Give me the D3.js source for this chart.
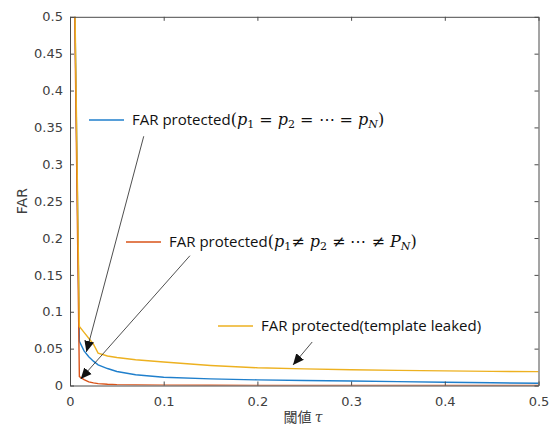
<!DOCTYPE html>
<html>
<head>
<meta charset="utf-8">
<script src="https://cdn.jsdelivr.net/npm/d3@7.9.0/dist/d3.min.js"></script>
<style>
  body { margin: 0; background: #fff; }
  svg { display: block; }
  .tick text { font-family: "DejaVu Sans", sans-serif; font-size: 13px; fill: #404040; }
  .lbl { font-family: "Open Sans", "Noto Sans", sans-serif; font-size: 15px; fill: #111; }
  .m { font-family: "DejaVu Serif", serif; font-style: italic; }
</style>
</head>
<body>
<svg width="557" height="425"></svg>
<script>
// threshold tau and FAR of each curve
const tau = [0, 0.01, 0.015, 0.02, 0.025, 0.03, 0.04, 0.05, 0.07, 0.1, 0.15, 0.2, 0.25, 0.3, 0.35, 0.4, 0.45, 0.5];
const farEqual = [1, 0.060, 0.047, 0.039, 0.033, 0.028, 0.023, 0.019, 0.0145, 0.0112, 0.009, 0.0076, 0.0068, 0.0061, 0.0052, 0.0044, 0.0037, 0.003];
const farUnequal = [1, 0.012, 0.008, 0.005, 0.0035, 0.0025, 0.0017, 0.0012, 0.0008, 0.0005, 0.0003, 0.0002, 0.0001, 0.0001, 0, 0, 0, 0];
const farLeaked = [1, 0.080, 0.072, 0.064, 0.056, 0.044, 0.040, 0.038, 0.035, 0.0318, 0.0272, 0.0240, 0.0226, 0.0214, 0.0205, 0.0198, 0.0192, 0.0188];
const xTicks = [0, 0.1, 0.2, 0.3, 0.4, 0.5];
const yTicks = [0, 0.05, 0.1, 0.15, 0.2, 0.25, 0.3, 0.35, 0.4, 0.45, 0.5];

const colors = {equal: '#1f7fcc', unequal: '#D95319', leaked: '#EDB120'};

const svg = d3.select('svg');
const pLeft = 70, pRight = 538.5, pTop = 16.8, pBottom = 385.5;

const x = d3.scaleLinear().domain([0, 0.5]).range([pLeft, pRight]);
const y = d3.scaleLinear().domain([0, 0.5]).range([pBottom, pTop]);
const fmt = d => String(+d.toFixed(2));

svg.append('clipPath').attr('id', 'clip')
  .append('rect').attr('x', pLeft).attr('y', pTop).attr('width', pRight - pLeft).attr('height', pBottom - pTop);

// curves
const line = d3.line().x(d => x(d[0])).y(d => y(d[1]));
const series = [
  {vals: farEqual, color: colors.equal},
  {vals: farUnequal, color: colors.unequal},
  {vals: farLeaked, color: colors.leaked}
];
series.forEach(s => {
  svg.append('path')
    .attr('clip-path', 'url(#clip)')
    .attr('d', line(tau.map((t, i) => [t, s.vals[i]])))
    .attr('fill', 'none')
    .attr('stroke', s.color)
    .attr('stroke-width', 1.4);
});

// axes (box with inward ticks)
const axisColor = '#4a4a4a';
function styleAxis(g) {
  g.select('.domain').attr('stroke', axisColor);
  g.selectAll('.tick line').attr('stroke', axisColor);
}
svg.append('g').attr('transform', `translate(0,${pBottom})`)
  .call(d3.axisBottom(x).tickValues(xTicks).tickFormat(fmt).tickSizeInner(-4).tickSizeOuter(0).tickPadding(11))
  .call(styleAxis);
svg.append('g').attr('transform', `translate(0,${pTop})`)
  .call(d3.axisTop(x).tickValues(xTicks).tickFormat('').tickSizeInner(-4).tickSizeOuter(0))
  .call(styleAxis);
svg.append('g').attr('transform', `translate(${pLeft},0)`)
  .call(d3.axisLeft(y).tickValues(yTicks).tickFormat(fmt).tickSizeInner(-4).tickSizeOuter(0).tickPadding(7))
  .call(styleAxis);
svg.append('g').attr('transform', `translate(${pRight},0)`)
  .call(d3.axisRight(y).tickValues(yTicks).tickFormat('').tickSizeInner(-4).tickSizeOuter(0))
  .call(styleAxis);

// axis labels
svg.append('text')
  .attr('transform', `translate(27,${(pTop + pBottom) / 2}) rotate(-90)`)
  .attr('text-anchor', 'middle')
  .attr('font-family', 'DejaVu Sans, sans-serif')
  .attr('font-size', 14).attr('fill', '#404040')
  .text('FAR');
const xl = svg.append('text')
  .attr('x', 303).attr('y', 422)
  .attr('text-anchor', 'middle')
  .attr('font-family', 'Noto Sans CJK JP, sans-serif')
  .attr('font-size', 14).attr('fill', '#404040');
xl.append('tspan').text('閾値 ');
xl.append('tspan').attr('class', 'm').text('τ');

// legend-like labels
function label(lx, ly, color, parts) {
  svg.append('line')
    .attr('x1', lx).attr('x2', lx + 35).attr('y1', ly).attr('y2', ly)
    .attr('stroke', color).attr('stroke-width', 1.6);
  const t = svg.append('text').attr('class', 'lbl').attr('x', lx + 43).attr('y', ly + 5);
  parts.forEach(p => {
    const ts = t.append('tspan').text(p.t);
    if (p.m) ts.attr('class', 'm').attr('font-size', 16);
    if (p.up) ts.attr('font-style', 'normal').attr('font-family', 'DejaVu Serif, serif').attr('font-size', 16);
    if (p.sub) ts.attr('font-size', 11).attr('dy', 3);
    if (p.back) ts.attr('dy', -3);
  });
}
label(89, 120, colors.equal, [
  {t: 'FAR protected'}, {t: '(', up: true},
  {t: 'p', m: true}, {t: '1', sub: true, up: true}, {t: ' = ', up: true, back: true},
  {t: 'p', m: true}, {t: '2', sub: true, up: true}, {t: ' = ⋯ = ', up: true, back: true},
  {t: 'p', m: true}, {t: 'N', sub: true, m: true}, {t: ')', up: true, back: true}
]);
label(126, 242, colors.unequal, [
  {t: 'FAR protected'}, {t: '(', up: true},
  {t: 'p', m: true}, {t: '1', sub: true, up: true}, {t: '≠ ', up: true, back: true},
  {t: 'p', m: true}, {t: '2', sub: true, up: true}, {t: ' ≠ ⋯ ≠ ', up: true, back: true},
  {t: 'P', m: true}, {t: 'N', sub: true, m: true}, {t: ')', up: true, back: true}
]);
label(218, 326, colors.leaked, [{t: 'FAR protected(template leaked)'}]);

// arrows, in data units
const arrowFrom = [[0.0787, 0.338], [0.128, 0.176], [0.2585, 0.059]];
const arrowTo = [[0.0175, 0.0455], [0.0114, 0.0088], [0.238, 0.0279]];

svg.append('defs').append('marker')
  .attr('id', 'head').attr('viewBox', '0 0 10 10')
  .attr('refX', 10).attr('refY', 5)
  .attr('markerWidth', 11).attr('markerHeight', 11)
  .attr('markerUnits', 'userSpaceOnUse')
  .attr('orient', 'auto')
  .append('path').attr('d', 'M0,0.5 L10,5 L0,9.5 Z').attr('fill', '#111');

arrowFrom.forEach((a, i) => {
  svg.append('line')
    .attr('x1', x(a[0])).attr('y1', y(a[1]))
    .attr('x2', x(arrowTo[i][0])).attr('y2', y(arrowTo[i][1]))
    .attr('stroke', '#222').attr('stroke-width', 0.8)
    .attr('marker-end', 'url(#head)');
});
</script>
</body>
</html>
